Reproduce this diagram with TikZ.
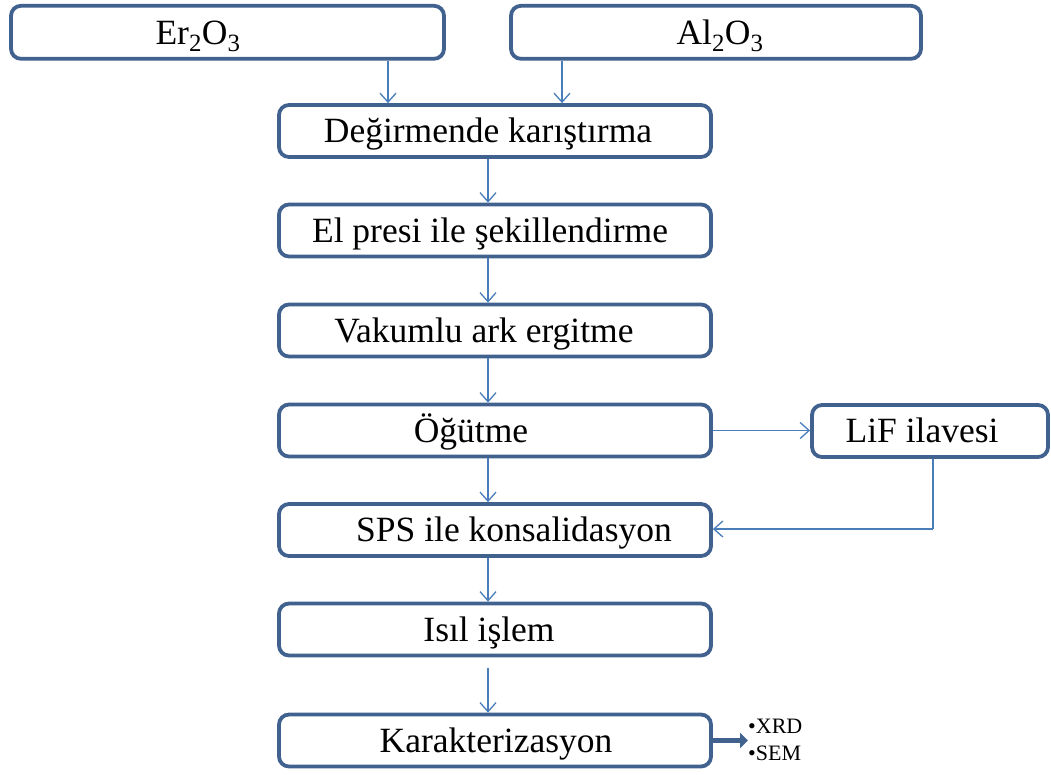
\documentclass[tikz,border=0pt]{standalone}
\usepackage{fontspec}
\setmainfont{Liberation Serif}
\usetikzlibrary{arrows.meta}
\definecolor{boxblue}{HTML}{41618F}
\definecolor{arrblue}{HTML}{4A7EBB}
\tikzset{
  stepbox/.style={draw=boxblue, line width=3.8pt, rounded corners=10pt, fill=white, inner sep=0pt},
  lbl/.style={anchor=base, inner sep=0pt, font=\fontsize{35.5}{40}\selectfont},
  small/.style={anchor=base west, inner sep=0pt, font=\fontsize{22}{26}\selectfont},
  arr/.style={draw=arrblue, line width=1.3pt, -{Straight Barb[length=9pt,width=16pt,line width=1.3pt]}},
  ln/.style={draw=arrblue, line width=1.3pt},
  bigarr/.style={draw=boxblue, line width=5pt, -{Triangle[length=8pt,width=15pt]}}
}
\begin{document}
\begin{tikzpicture}[x=1pt,y=-1pt]
\useasboundingbox (0,0) rectangle (1051,774);
% boxes
\node[stepbox, minimum width=433pt, minimum height=53pt] (er) at (227.5,32.3) {};
\node[stepbox, minimum width=410pt, minimum height=53pt] (al) at (716,32.3) {};
\node[stepbox, minimum width=432pt, minimum height=52pt] (dm) at (495,131) {};
\node[stepbox, minimum width=432pt, minimum height=52pt] (ep) at (495,230.5) {};
\node[stepbox, minimum width=432pt, minimum height=52pt] (vk) at (495,330.5) {};
\node[stepbox, minimum width=432pt, minimum height=52pt] (og) at (495,430.5) {};
\node[stepbox, minimum width=432pt, minimum height=52pt] (sps) at (495,530) {};
\node[stepbox, minimum width=432pt, minimum height=52pt] (isil) at (495,629.5) {};
\node[stepbox, minimum width=432pt, minimum height=52pt] (kar) at (495,740.5) {};
\node[stepbox, minimum width=236pt, minimum height=52pt] (lif) at (930,431) {};
% texts
\node[lbl] (ter) at (198,44) {Er\textsubscript{2}O\textsubscript{3}};
\node[lbl] (tal) at (720,44) {Al\textsubscript{2}O\textsubscript{3}};
\node[lbl] (tdm) at (488,142.5) {Değirmende karıştırma};
\node[lbl] (tep) at (490,242) {El presi ile şekillendirme};
\node[lbl] (tvk) at (484,342) {Vakumlu ark ergitme};
\node[lbl] (tog) at (471,442) {Öğütme};
\node[lbl] (tsps) at (514,541.5) {SPS ile konsalidasyon};
\node[lbl] (tisil) at (489,641) {Isıl işlem};
\node[lbl] (tkar) at (496,752) {Karakterizasyon};
\node[lbl] (tlif) at (922,442.5) {LiF ilavesi};
\node[small] (xrd) at (748,733) {•XRD};
\node[small] (sem) at (748,760) {•SEM};
% helper coordinates
\coordinate (xa) at (388,0);
\coordinate (xb) at (562,0);
\coordinate (xc) at (488,0);
\coordinate (xl) at (933,0);
\coordinate (isgap) at (488,668);
\coordinate (bend) at (933,529);
\coordinate (karout) at (748,740.5);
% connectors
\draw[arr] (xa |- er.south) -- (xa |- dm.north);
\draw[arr] (xb |- al.south) -- (xb |- dm.north);
\draw[arr] (xc |- dm.south) -- (xc |- ep.north);
\draw[arr] (xc |- ep.south) -- (xc |- vk.north);
\draw[arr] (xc |- vk.south) -- (xc |- og.north);
\draw[arr] (xc |- og.south) -- (xc |- sps.north);
\draw[arr] (xc |- sps.south) -- (xc |- isil.north);
\draw[arr] (isgap) -- (xc |- kar.north);
\draw[arr] (og.east) -- (og.east -| lif.west);
\draw[ln] (xl |- lif.south) -- (bend);
\draw[arr] (bend) -- (bend -| sps.east);
\draw[bigarr] (kar.east) -- (karout);
\end{tikzpicture}
\end{document}
